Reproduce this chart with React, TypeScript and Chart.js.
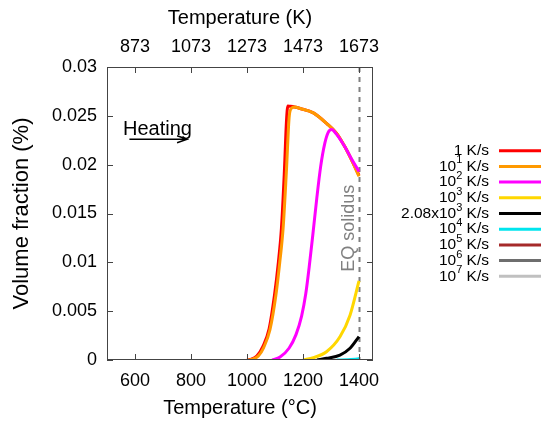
import React, { useEffect, useRef } from "react";
import { Chart, registerables } from "chart.js";

Chart.register(...registerables);

const FONT = '"Liberation Sans", Arial, Helvetica, sans-serif';

// Temperature (°C) and volume fraction (%) for each heating rate.
const t1 = [1000, 1011, 1035, 1057, 1079, 1098, 1112, 1123, 1133, 1141, 1146, 1152, 1170, 1190, 1237, 1285, 1320, 1350, 1375, 1400];
const v1 = [0, 0.00005, 0.0004, 0.0014, 0.0032, 0.0066, 0.01, 0.0135, 0.019, 0.0245, 0.026, 0.02598, 0.0259, 0.02575, 0.0253, 0.0242, 0.0232, 0.0218, 0.0204, 0.0189];

const t10 = [1005, 1015, 1040, 1060, 1082, 1103, 1117, 1129, 1141, 1151, 1160, 1170, 1190, 1237, 1285, 1320, 1350, 1375, 1400];
const v10 = [0, 0.00005, 0.0004, 0.0013, 0.0031, 0.0066, 0.01, 0.0135, 0.0195, 0.025, 0.0258, 0.0259, 0.02575, 0.0253, 0.0242, 0.0232, 0.0218, 0.0204, 0.0188];

const t100 = [1090, 1118, 1150, 1175, 1195, 1210, 1222, 1235, 1249, 1263, 1278, 1290, 1302, 1320, 1350, 1375, 1400];
const v100 = [0, 0.0003, 0.0012, 0.0026, 0.0045, 0.0068, 0.0095, 0.0128, 0.0165, 0.0198, 0.0222, 0.0233, 0.0236, 0.0231, 0.0218, 0.0205, 0.0193];

const t1e3 = [1200, 1237, 1284, 1332, 1368, 1400];
const v1e3 = [0, 0.00024, 0.00085, 0.00238, 0.00459, 0.0081];

const t208e3 = [1250, 1284, 1332, 1368, 1400];
const v208e3 = [0, 0.00017, 0.0005, 0.0012, 0.0024];

const t1e4 = [1320, 1360, 1400];
const v1e4 = [0, 0.00003, 0.00012];

// No measurable fraction at the fastest rates.
const t1e5: number[] = [];
const v1e5: number[] = [];
const t1e6: number[] = [];
const v1e6: number[] = [];
const t1e7: number[] = [];
const v1e7: number[] = [];

const seriesLabels = ["1 K/s", "10^1 K/s", "10^2 K/s", "10^3 K/s", "2.08x10^3 K/s", "10^4 K/s", "10^5 K/s", "10^6 K/s", "10^7 K/s"];
const seriesColors = ["#ff0000", "#ff9900", "#ff00ff", "#ffd700", "#000000", "#00e5ee", "#a52a2a", "#6e6e6e", "#c0c0c0"];
const seriesT = [t1, t10, t100, t1e3, t208e3, t1e4, t1e5, t1e6, t1e7];
const seriesV = [v1, v10, v100, v1e3, v208e3, v1e4, v1e5, v1e6, v1e7];

const celsiusTicks = [600, 800, 1000, 1200, 1400];
const kelvinTicks = [873, 1073, 1273, 1473, 1673];
const fractionTicks = [0, 0.005, 0.01, 0.015, 0.02, 0.025, 0.03];
const tMin = 500;
const tMax = 1450;
const solidusT = 1400;
const solidusLabel = "EQ solidus";
const heatingLabel = "Heating";

function drawLabel(ctx: CanvasRenderingContext2D, label: string, right: number, y: number) {
  const [head, rest] = label.split("^");
  const base = head;
  let sup = "";
  let tail = "";
  if (rest !== undefined) {
    sup = rest.charAt(0);
    tail = rest.slice(1);
  }
  const big = `15.5px ${FONT}`;
  const small = `11px ${FONT}`;
  ctx.font = big;
  const wBase = ctx.measureText(base).width;
  const wTail = ctx.measureText(tail).width;
  ctx.font = small;
  const wSup = ctx.measureText(sup).width;
  let x = right - (wBase + wSup + wTail);
  ctx.textAlign = "left";
  ctx.textBaseline = "middle";
  ctx.font = big;
  ctx.fillText(base, x, y);
  x += wBase;
  if (sup) {
    ctx.font = small;
    ctx.fillText(sup, x, y - 6);
    x += wSup;
    ctx.font = big;
  }
  ctx.fillText(tail, x, y);
}

const decorations = {
  id: "decorations",
  beforeDatasetsDraw(chart: any) {
    const { ctx, chartArea, scales } = chart;
    const x = Math.round(scales.x.getPixelForValue(solidusT)) + 0.5;
    ctx.save();
    ctx.strokeStyle = "#808080";
    ctx.lineWidth = 2;
    ctx.setLineDash([5, 5]);
    ctx.beginPath();
    ctx.moveTo(x, chartArea.top);
    ctx.lineTo(x, chartArea.bottom);
    ctx.stroke();
    ctx.restore();
  },
  afterDatasetsDraw(chart: any) {
    const { ctx, chartArea: a, scales } = chart;
    ctx.save();
    ctx.strokeStyle = "#444";
    ctx.lineWidth = 1;
    ctx.strokeRect(a.left + 0.5, a.top + 0.5, a.right - a.left - 1, a.bottom - a.top - 1);
    const len = 6;
    ctx.beginPath();
    for (const t of celsiusTicks) {
      const px = Math.round(scales.x.getPixelForValue(t)) + 0.5;
      ctx.moveTo(px, a.bottom);
      ctx.lineTo(px, a.bottom - len);
    }
    for (const k of kelvinTicks) {
      const px = Math.round(scales.x2.getPixelForValue(k)) + 0.5;
      ctx.moveTo(px, a.top);
      ctx.lineTo(px, a.top + len);
    }
    for (const v of fractionTicks) {
      const py = Math.round(scales.y.getPixelForValue(v)) + 0.5;
      ctx.moveTo(a.left, py);
      ctx.lineTo(a.left + len, py);
      ctx.moveTo(a.right, py);
      ctx.lineTo(a.right - len, py);
    }
    ctx.stroke();
    ctx.restore();
  },
  afterDraw(chart: any) {
    const { ctx, scales } = chart;
    const sx = scales.x;
    const sy = scales.y;
    ctx.save();
    // solidus label
    ctx.fillStyle = "#808080";
    ctx.font = `18px ${FONT}`;
    ctx.textAlign = "center";
    ctx.textBaseline = "middle";
    ctx.translate(sx.getPixelForValue(solidusT) - 10, sy.getPixelForValue(0.0135));
    ctx.rotate(-Math.PI / 2);
    ctx.fillText(solidusLabel, 0, 0);
    ctx.restore();

    // heating label and arrow
    ctx.save();
    ctx.fillStyle = "#000";
    ctx.font = `20px ${FONT}`;
    ctx.textAlign = "left";
    ctx.textBaseline = "middle";
    ctx.fillText(heatingLabel, sx.getPixelForValue(557), sy.getPixelForValue(0.0236));
    const ay = sy.getPixelForValue(0.0226);
    const x0 = sx.getPixelForValue(580);
    const x1 = sx.getPixelForValue(786);
    ctx.strokeStyle = "#000";
    ctx.lineWidth = 1.5;
    ctx.beginPath();
    ctx.moveTo(x0, ay);
    ctx.lineTo(x1, ay);
    ctx.moveTo(x1 - 10, ay - 3.5);
    ctx.lineTo(x1, ay);
    ctx.lineTo(x1 - 10, ay + 3.5);
    ctx.stroke();
    ctx.restore();

    // legend
    ctx.save();
    const top = 150.7;
    const step = 15.7;
    seriesLabels.forEach((label, i) => {
      const y = top + i * step;
      ctx.strokeStyle = seriesColors[i];
      ctx.lineWidth = 3;
      ctx.beginPath();
      ctx.moveTo(499, y);
      ctx.lineTo(541, y);
      ctx.stroke();
      ctx.fillStyle = "#000";
      drawLabel(ctx, label, 489, y);
    });
    ctx.restore();
  },
};

export default function App() {
  const ref = useRef<HTMLCanvasElement | null>(null);

  useEffect(() => {
    if (!ref.current) return;
    const tickFont = { family: FONT, size: 18 };
    const titleFont = { family: FONT, size: 20 };
    const chart = new Chart(ref.current, {
      type: "line",
      data: {
        datasets: seriesLabels.map((label, i) => ({
          label,
          data: seriesT[i].map((t, j) => ({ x: t, y: seriesV[i][j] })),
          borderColor: seriesColors[i],
          backgroundColor: seriesColors[i],
          borderWidth: 3,
          pointRadius: 0,
          fill: false,
          cubicInterpolationMode: "monotone" as const,
          order: seriesLabels.length - i,
          xAxisID: "x",
          yAxisID: "y",
        })),
      },
      options: {
        responsive: false,
        animation: false,
        layout: { padding: { left: 0, right: 169, top: 0, bottom: 0 } },
        plugins: { legend: { display: false }, tooltip: { enabled: false } },
        scales: {
          x: {
            type: "linear",
            position: "bottom",
            min: tMin,
            max: tMax,
            grid: { display: false, drawTicks: false },
            border: { display: false },
            afterBuildTicks: (s: any) => {
              s.ticks = celsiusTicks.map((v) => ({ value: v }));
            },
            afterFit: (s: any) => {
              s.height = 62;
            },
            ticks: { font: tickFont, color: "#000", padding: 10, maxRotation: 0, callback: (v: any) => String(v) },
            title: { display: true, text: "Temperature (°C)", font: titleFont, color: "#000", padding: { top: 0, bottom: 2 } },
          },
          x2: {
            type: "linear",
            position: "top",
            min: tMin + 273,
            max: tMax + 273,
            grid: { display: false, drawTicks: false },
            border: { display: false },
            afterBuildTicks: (s: any) => {
              s.ticks = kelvinTicks.map((v) => ({ value: v }));
            },
            afterFit: (s: any) => {
              s.height = 67;
            },
            ticks: { font: tickFont, color: "#000", padding: 9, maxRotation: 0, callback: (v: any) => String(v) },
            title: { display: true, text: "Temperature (K)", font: titleFont, color: "#000", padding: { top: 6, bottom: 0 } },
          },
          y: {
            type: "linear",
            position: "left",
            min: 0,
            max: 0.03,
            grid: { display: false, drawTicks: false },
            border: { display: false },
            afterBuildTicks: (s: any) => {
              s.ticks = fractionTicks.map((v) => ({ value: v }));
            },
            afterFit: (s: any) => {
              s.width = 107;
            },
            ticks: {
              font: tickFont,
              color: "#000",
              padding: 10,
              callback: (v: any) => String(Number(Number(v).toFixed(3))),
            },
            title: { display: true, text: "Volume fraction (%)", font: { family: FONT, size: 22 }, color: "#000", padding: { top: 9, bottom: 0 } },
          },
        },
      },
      plugins: [decorations],
    });
    return () => chart.destroy();
  }, []);

  return (
    <div style={{ position: "fixed", left: 0, top: 0, width: 542, height: 422, background: "#fff" }}>
      <canvas ref={ref} width={542} height={422} style={{ display: "block" }} />
    </div>
  );
}
